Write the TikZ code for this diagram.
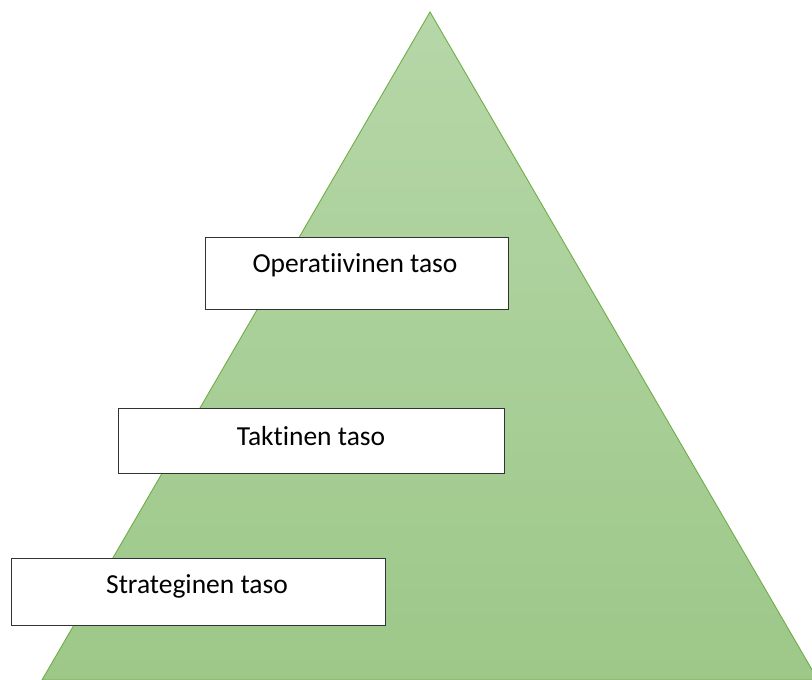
\documentclass[tikz,border=0pt]{standalone}
\usepackage{fontspec}
\setmainfont{Carlito}[Ligatures={NoCommon,NoRare}]
\begin{document}
\begin{tikzpicture}[x=1pt,y=-1pt,
  level/.style={draw=black!80,line width=0.8pt,fill=white,anchor=north west,inner sep=0pt},
  label/.style={font=\fontsize{27.5}{33}\selectfont,anchor=center,inner sep=0pt}]
\useasboundingbox (0,0) rectangle (812,680);
% pyramid with vertical gradient
\begin{scope}
\clip (0,0) rectangle (812,680);
\shade[top color={rgb,255:red,182;green,215;blue,168},bottom color={rgb,255:red,157;green,200;blue,137},draw={rgb,255:red,112;green,173;blue,71},line width=0.9pt]
  (430,12) -- (818,680) -- (42,680) -- cycle;
\end{scope}
% level boxes
\draw[level] (205,237) rectangle (508,309);
\node[label] (op) at (355,265) {Operatiivinen taso};
\draw[level] (118,408) rectangle (504,473);
\node[label] (ta) at (311,436) {Taktinen taso};
\draw[level] (11,558) rectangle (385,625);
\node[label] (st) at (197,586) {Strateginen taso};
\end{tikzpicture}
\end{document}
